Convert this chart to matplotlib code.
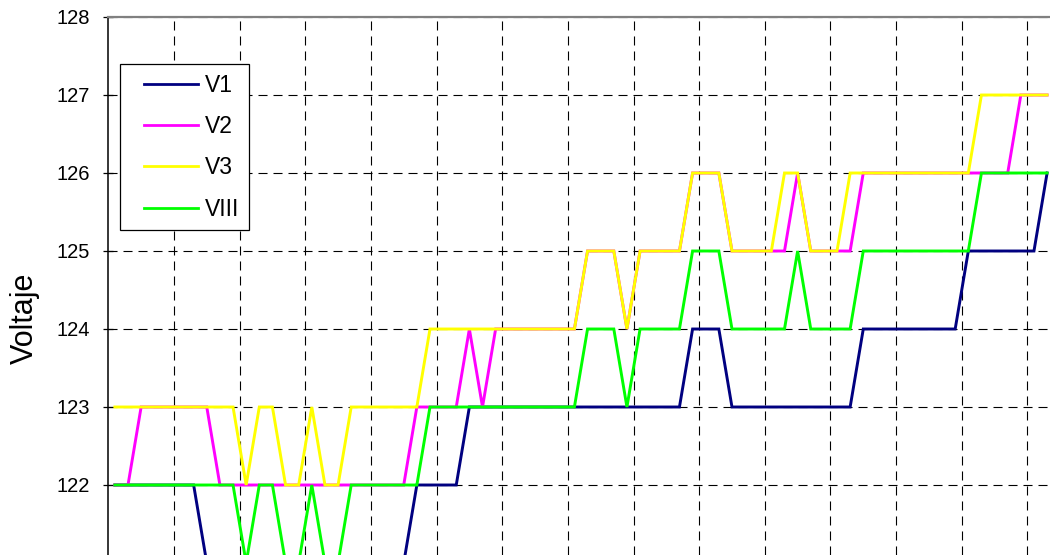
import numpy as np
import matplotlib
matplotlib.use("Agg")
import matplotlib.pyplot as plt
from matplotlib.legend_handler import HandlerLine2D
from matplotlib.lines import Line2D

# ---- data ----
V1 = [122, 122, 122, 122, 122, 122, 122,
      121, 121, 121, 121, 121, 121, 121, 121, 121, 121, 121, 121, 121, 121, 121, 121,
      122, 122, 122, 122,
      123, 123, 123, 123, 123, 123, 123, 123, 123, 123, 123, 123, 123, 123, 123, 123, 123,
      124, 124, 124,
      123, 123, 123, 123, 123, 123, 123, 123, 123, 123,
      124, 124, 124, 124, 124, 124, 124, 124,
      125, 125, 125, 125, 125, 125,
      126]
V2 = [122, 122,
      123, 123, 123, 123, 123, 123,
      122, 122, 122, 122, 122, 122, 122, 122, 122, 122, 122, 122, 122, 122, 122,
      123, 123, 123, 123,
      124,
      123,
      124, 124, 124, 124, 124, 124, 124,
      125, 125, 125,
      124,
      125, 125, 125, 125,
      126, 126, 126,
      125, 125, 125, 125, 125,
      126,
      125, 125, 125, 125,
      126, 126, 126, 126, 126, 126, 126, 126, 126, 126, 126, 126,
      127, 127, 127]
V3 = [123, 123, 123, 123, 123, 123, 123, 123, 123, 123,
      122,
      123, 123,
      122, 122,
      123,
      122, 122,
      123, 123, 123, 123, 123, 123,
      124, 124, 124, 124, 124, 124, 124, 124, 124, 124, 124, 124,
      125, 125, 125,
      124,
      125, 125, 125, 125,
      126, 126, 126,
      125, 125, 125, 125,
      126, 126,
      125, 125, 125,
      126, 126, 126, 126, 126, 126, 126, 126, 126, 126,
      127, 127, 127, 127, 127, 127]
VIII = [122, 122, 122, 122, 122, 122, 122, 122, 122, 122,
        121,
        122, 122,
        121, 121,
        122,
        121, 121,
        122, 122, 122, 122, 122, 122,
        123, 123, 123, 123, 123, 123, 123, 123, 123, 123, 123, 123,
        124, 124, 124,
        123,
        124, 124, 124, 124,
        125, 125, 125,
        124, 124, 124, 124, 124,
        125,
        124, 124, 124, 124,
        125, 125, 125, 125, 125, 125, 125, 125, 125,
        126, 126, 126, 126, 126, 126]
series_names = ["V1", "V2", "V3", "VIII"]
series_colors = ["#000080", "#FF00FF", "#FFFF00", "#00FF00"]
y_ticks = [122, 123, 124, 125, 126, 127, 128]
y_label = "Voltaje"

plt.rcParams['font.family'] = ['Liberation Sans', 'DejaVu Sans']
plt.rcParams['lines.scale_dashes'] = False

W, H = 1050, 555
fig = plt.figure(figsize=(W / 100, H / 100), dpi=100)
ax_left, ax_top = 108.3, 17.0
ax = fig.add_axes([ax_left / W, 0.0, 1.0 - ax_left / W, 1.0 - ax_top / H])

x = np.arange(len(V1))
for name, vals, col in zip(series_names, [V1, V2, V3, VIII], series_colors):
    ax.plot(x, vals, color=col, lw=2.1, label=name, solid_joinstyle='miter')

step_px = 13.13
ax.set_xlim(-0.5, -0.5 + (W - ax_left) / step_px)
ax.set_ylim(128 - (H - ax_top) / 78.0, 128)

ax.set_xticks(np.arange(4.5, len(V1), 5))
ax.tick_params(axis='x', length=0, labelbottom=False)
ax.set_yticks(y_ticks)
ax.tick_params(axis='y', direction='inout', length=7.2, width=0.9,
               labelsize=14.5, pad=9.6, colors='black')

ax.grid(True, color='black', lw=0.8, linestyle=(0, (6.5, 4.3)))

for s in ['right', 'bottom']:
    ax.spines[s].set_visible(False)
ax.spines['top'].set_color('#808080')
ax.spines['top'].set_linewidth(1.6)
ax.spines['left'].set_color('black')
ax.spines['left'].set_linewidth(1.1)

ax.set_ylabel(y_label, fontsize=22)
ax.yaxis.set_label_coords((39.5 - ax_left) / (W - ax_left), 0.4405)


class ShiftedLine(HandlerLine2D):
    def create_artists(self, legend, orig_handle, xdescent, ydescent,
                       width, height, fontsize, trans):
        arts = super().create_artists(legend, orig_handle, xdescent, ydescent,
                                      width, height, fontsize, trans)
        for a in arts:
            if isinstance(a, Line2D):
                xd = np.asarray(a.get_xdata(), dtype=float)
                if xd.size >= 2:
                    xd = xd.copy()
                    xd[0] = xd[0] + 10.3
                    a.set_xdata(xd)
        return arts


leg = ax.legend(loc='upper left', bbox_to_anchor=(120 / W, 1 - 64 / H),
                bbox_transform=fig.transFigure, fontsize=16.5,
                frameon=True, fancybox=False, shadow=False, framealpha=1,
                edgecolor='black', borderpad=0.42, labelspacing=0.80,
                handlelength=3.0, handletextpad=0.29, borderaxespad=0,
                handler_map={Line2D: ShiftedLine()})
leg.get_frame().set_linewidth(0.9)
for lh in leg.get_lines():
    lh.set_linewidth(2.0)

fig.savefig("out.png", dpi=100)
